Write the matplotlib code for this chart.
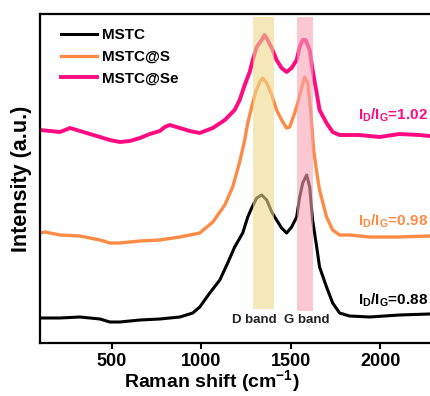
import matplotlib
matplotlib.use('Agg')
import matplotlib.pyplot as plt

plt.rcParams['font.family'] = ['Liberation Sans', 'DejaVu Sans']
plt.rcParams['font.weight'] = 'bold'
plt.rcParams['mathtext.fontset'] = 'custom'
plt.rcParams['mathtext.rm'] = 'Liberation Sans:bold'
plt.rcParams['mathtext.bf'] = 'Liberation Sans:bold'

# Raman spectra (intensity in arbitrary units)
w_se = [100, 156, 212, 268, 323, 379, 435, 490, 546, 602, 658, 713, 769, 797, 825,
        881, 936, 992, 1065, 1132, 1187, 1215, 1243, 1271, 1288, 1310, 1338, 1354,
        1371, 1394, 1421, 1449, 1477, 1505, 1533, 1550, 1567, 1583, 1606, 1622, 1645,
        1661, 1700, 1734, 1773, 1828, 1884, 1996, 2107, 2218, 2274]
i_se = [213, 212, 211, 215, 212, 209, 206, 203, 201, 202, 205, 209, 212, 216, 218,
        215, 212, 210, 215, 223, 233, 243, 258, 271, 283, 296, 303, 308,
        303, 295, 283, 275, 271, 275, 283, 296, 303, 303, 293, 273, 250,
        233, 220, 211, 208, 208, 208, 206, 209, 208, 207]

w_s = [100, 128, 212, 323, 435, 490, 546, 658, 769, 881, 992, 1065, 1132, 1176, 1215,
       1243, 1260, 1282, 1304, 1327, 1343, 1366, 1394, 1421, 1449, 1477, 1494, 1522,
       1539, 1561, 1578, 1595, 1611, 1628, 1645, 1661, 1700, 1734, 1773, 1828, 1940,
       2107, 2274]
i_s = [110, 111, 108, 107, 103, 100, 100, 102, 103, 106, 110, 121, 138, 156, 181,
       203, 220, 236, 251, 261, 265, 260, 248, 233, 223, 215, 216, 230,
       240, 255, 266, 260, 233, 193, 171, 153, 126, 113, 108, 108, 106,
       106, 107]

w_m = [100, 212, 323, 435, 490, 546, 658, 769, 881, 953, 992, 1048, 1104, 1148, 1187,
       1232, 1260, 1282, 1310, 1338, 1366, 1394, 1421, 1449, 1477, 1505, 1533, 1550,
       1567, 1589, 1606, 1622, 1645, 1661, 1700, 1734, 1773, 1828, 1940, 2107, 2274]
i_m = [25, 25, 26, 24, 21, 21, 23, 24, 26, 30, 36, 50, 63, 80, 96,
       110, 126, 135, 145, 148, 143, 131, 123, 115, 110, 116, 126, 146,
       160, 168, 156, 123, 96, 76, 56, 40, 30, 27, 26, 28, 29]

labels = ['MSTC', 'MSTC@S', 'MSTC@Se']
colors = ['black', '#FF8A45', '#FF0A80']
ratios = ['0.88', '0.98', '1.02']
ratio_y = [43, 122, 228]

d_band = (1290, 1405)
g_band = (1533, 1626)

fig = plt.figure(figsize=(4.3, 3.96), dpi=100)
ax = fig.add_axes([40 / 430, 1 - 343 / 396, (434 - 40) / 430, (343 - 14) / 396])

ax.plot(w_m, i_m, color=colors[0], lw=2.2, label=labels[0])
ax.plot(w_s, i_s, color=colors[1], lw=2.4, label=labels[1])
ax.plot(w_se, i_se, color=colors[2], lw=2.8, label=labels[2])

ax.axvspan(*d_band, ymin=0.103, ymax=0.991, color='#EED98A', alpha=0.6, lw=0, zorder=3)
ax.axvspan(*g_band, ymin=0.097, ymax=0.991, color='#F8A3B4', alpha=0.6, lw=0, zorder=3)

ax.text(1296, 23, 'D band', ha='center', va='center', fontsize=9.5, color='#222222')
ax.text(1591, 23, 'G band', ha='center', va='center', fontsize=9.5, color='#222222')

for r, y, c in zip(ratios, ratio_y, colors):
    ax.text(2266, y, r'I$_\mathrm{D}$/I$_\mathrm{G}$=' + r, ha='right', va='center',
            fontsize=11, color=c)

ax.set_xlim(100, 2300)
ax.set_ylim(0, 329)
ax.set_xticks([500, 1000, 1500, 2000])
ax.set_yticks([])
ax.tick_params(axis='x', direction='out', length=4, width=1.5, labelsize=13, pad=3)
for s in ax.spines.values():
    s.set_linewidth(1.6)

ax.set_xlabel('Raman shift (cm$^{-1}$)', fontsize=14, fontweight='bold')
ax.xaxis.set_label_coords(0.435, -0.078)
ax.set_ylabel('Intensity (a.u.)', fontsize=15.5, fontweight='bold', labelpad=6)

ax.legend(loc='upper left', bbox_to_anchor=(0.037, 0.975), frameon=False, fontsize=11,
          handlelength=2.4, handletextpad=0.3, labelspacing=0.5, borderaxespad=0)

fig.savefig('out.png', dpi=100)
